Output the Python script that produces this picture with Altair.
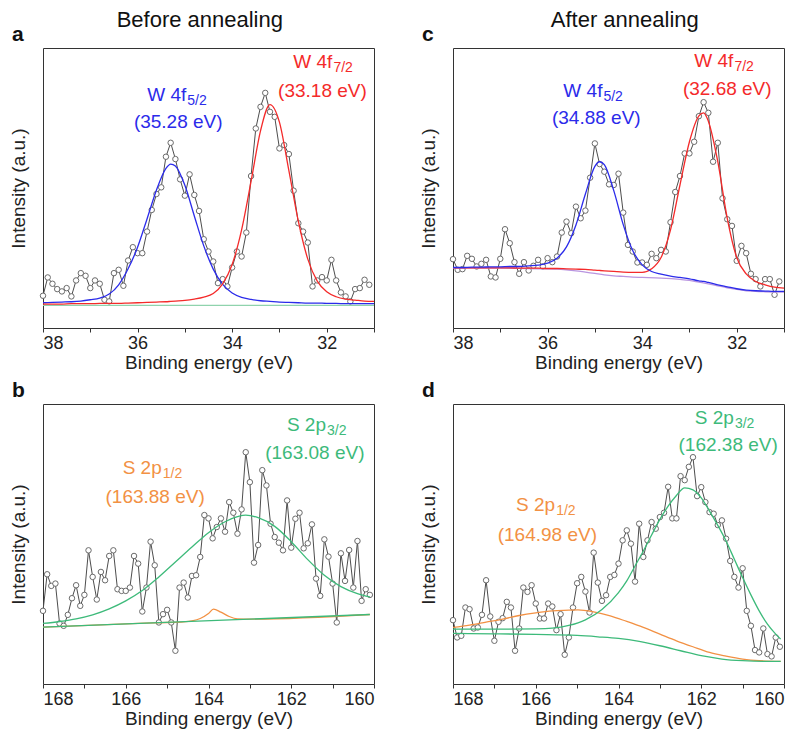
import altair as alt
import pandas as pd

FONT = "Liberation Sans"
BLUE = "#2b2bea"
RED = "#f42a2a"
GREEN = "#3dba7a"
GREEN_LIGHT = "#8fd3ad"
ORANGE = "#f29144"
PURPLE = "#b995e0"
DATA_LINE = "#4d4d4d"
DATA_EDGE = "#6b6b6b"

W = 331
H = 280
Y_MAX = 842

# ---------------- measured spectra (binding energy, intensity a.u.) ----------------
W_E = [38.0, 37.9, 37.8, 37.7, 37.6, 37.5, 37.4, 37.3, 37.2, 37.1,
       37.0, 36.9, 36.8, 36.7, 36.6, 36.5, 36.4, 36.3, 36.2, 36.1,
       36.0, 35.9, 35.8, 35.7, 35.6, 35.5, 35.4, 35.3, 35.2, 35.1,
       35.0, 34.9, 34.8, 34.7, 34.6, 34.5, 34.4, 34.3, 34.2, 34.1,
       34.0, 33.9, 33.8, 33.7, 33.6, 33.5, 33.4, 33.3, 33.2, 33.1,
       33.0, 32.9, 32.8, 32.7, 32.6, 32.5, 32.4, 32.3, 32.2, 32.1,
       32.0, 31.9, 31.8, 31.7, 31.6, 31.5, 31.4, 31.3, 31.2, 31.1]

S_E = [168.0, 167.9, 167.8, 167.7, 167.6, 167.5, 167.4, 167.3, 167.2, 167.1,
       167.0, 166.9, 166.8, 166.7, 166.6, 166.5, 166.4, 166.3, 166.2, 166.1,
       166.0, 165.9, 165.8, 165.7, 165.6, 165.5, 165.4, 165.3, 165.2, 165.1,
       165.0, 164.9, 164.8, 164.7, 164.6, 164.5, 164.4, 164.3, 164.2, 164.1,
       164.0, 163.9, 163.8, 163.7, 163.6, 163.5, 163.4, 163.3, 163.2, 163.1,
       163.0, 162.9, 162.8, 162.7, 162.6, 162.5, 162.4, 162.3, 162.2, 162.1,
       162.0, 161.9, 161.8, 161.7, 161.6, 161.5, 161.4, 161.3, 161.2, 161.1,
       161.0, 160.9, 160.8, 160.7, 160.6, 160.5, 160.4, 160.3, 160.2, 160.1]

A_I = [97, 152, 133, 117, 110, 120, 95, 143, 165, 157,
       120, 143, 133, 85, 80, 165, 175, 127, 203, 243,
       225, 225, 290, 355, 403, 423, 515, 557, 508, 447,
       398, 462, 400, 352, 267, 230, 200, 135, 147, 125,
       182, 230, 215, 287, 457, 600, 665, 707, 650, 635,
       540, 550, 523, 413, 315, 290, 257, 125, 143, 153,
       143, 205, 143, 107, 95, 80, 117, 120, 145, 130]

C_I = [207, 175, 177, 217, 208, 185, 193, 205, 155, 152,
       208, 297, 255, 198, 163, 198, 173, 187, 205, 185,
       210, 198, 215, 287, 320, 285, 365, 330, 353, 452,
       555, 493, 470, 432, 430, 464, 347, 250, 230, 197,
       197, 190, 223, 210, 235, 230, 318, 409, 457, 525,
       525, 560, 637, 679, 647, 500, 557, 390, 327, 307,
       202, 247, 225, 163, 147, 125, 147, 147, 100, 140]

B_I = [220, 330, 295, 302, 182, 175, 208, 258, 297, 235,
       268, 402, 322, 254, 337, 312, 385, 402, 285, 280,
       280, 290, 385, 362, 218, 290, 428, 357, 185, 210,
       223, 185, 100, 290, 305, 260, 325, 327, 382, 508,
       498, 438, 472, 498, 458, 547, 515, 452, 525, 697,
       607, 365, 418, 643, 597, 482, 442, 425, 402, 552,
       410, 497, 515, 408, 423, 480, 317, 265, 435, 383,
       302, 185, 393, 310, 403, 290, 430, 250, 285, 268]

D_I = [192, 140, 145, 230, 225, 167, 170, 208, 312, 203,
       130, 187, 198, 247, 230, 100, 167, 290, 277, 297,
       242, 197, 197, 242, 233, 162, 210, 88, 140, 230,
       303, 322, 278, 215, 395, 305, 250, 267, 322, 328,
       362, 432, 462, 422, 308, 482, 382, 432, 487, 467,
       502, 515, 593, 498, 498, 625, 613, 653, 682, 565,
       592, 547, 517, 512, 478, 492, 437, 370, 322, 290,
       348, 220, 175, 102, 95, 167, 90, 83, 140, 112]

# ---------------- fitted components ----------------
A_FIT_E = [38.0, 37.8, 37.6, 37.4, 37.2, 37.0, 36.8, 36.6, 36.4, 36.2, 36.0, 35.8,
           35.6, 35.4, 35.3, 35.2, 35.0, 34.8, 34.6, 34.4, 34.2, 34.0, 33.8, 33.6,
           33.4, 33.2, 33.0, 32.8, 32.6, 32.4, 32.2, 32.0, 31.8, 31.6, 31.4, 31.2, 31.0]
A_W52 = [76, 77, 78, 79, 81, 85, 90, 102, 130, 178, 243, 328,
         415, 480, 493, 487, 429, 337, 247, 177, 131, 105, 92, 86,
         82, 80, 78, 77, 76, 75, 75, 74, 74, 73, 73, 73, 73]
A_W72 = [72, 72, 72, 73, 73, 73, 74, 74, 74, 75, 76, 77,
         78, 79, 80, 81, 83, 87, 93, 104, 133, 191, 295, 441,
         593, 672, 619, 473, 321, 207, 141, 109, 94, 87, 84, 81, 80]
A_BG_E = [38.0, 31.0]
A_BG = [68, 68]

C_FIT_E = [38.0, 37.8, 37.6, 37.4, 37.2, 37.0, 36.8, 36.6, 36.4, 36.2, 36.0, 35.8,
           35.6, 35.4, 35.2, 35.0, 34.9, 34.8, 34.6, 34.4, 34.2, 34.0, 33.8, 33.6,
           33.4, 33.2, 33.0, 32.8, 32.7, 32.6, 32.4, 32.2, 32.0, 31.8, 31.6, 31.4,
           31.2, 31.0]
C_W52 = [182, 182, 183, 183, 184, 184, 185, 185, 187, 189, 195, 210,
         244, 310, 403, 486, 500, 491, 413, 311, 233, 190, 170, 162,
         156, 152, 148, 142, 140, 137, 130, 124, 118, 114, 112, 111,
         110, 110]
C_W72 = [181, 181, 181, 181, 181, 181, 181, 180, 180, 180, 179, 179,
         178, 177, 176, 174, 173, 172, 170, 168, 167, 167, 178, 212,
         295, 430, 560, 638, 647, 622, 500, 330, 212, 163, 140, 130,
         123, 120]
C_BG_E = [38.0, 37.0, 36.6, 36.2, 35.8, 35.6, 35.4, 35.2, 35.0, 34.8, 34.6, 34.4,
          34.2, 34.0, 33.6, 33.2, 33.0, 32.8, 32.6, 32.4, 32.2, 32.0, 31.8, 31.6,
          31.4, 31.0]
C_BG = [180, 180, 179, 178, 177, 175, 172, 168, 164, 160, 157, 155,
        153, 152, 150, 146, 143, 138, 133, 127, 121, 116, 112, 110,
        109, 108]

B_P32_E = [168.0, 167.6, 167.2, 166.8, 166.4, 166.0, 165.6, 165.2, 164.8, 164.4, 164.0,
           163.6, 163.3, 163.1, 162.8, 162.4, 162.0, 161.6, 161.2, 160.8, 160.4, 160.1]
B_P32 = [182, 188, 196, 208, 226, 250, 281, 322, 367, 412, 455,
         488, 503, 508, 500, 474, 428, 374, 327, 293, 272, 262]
B_P12_E = [168.0, 166.0, 165.0, 164.6, 164.4, 164.2, 164.0, 163.88, 163.7, 163.5,
           163.3, 163.0, 160.1]
B_P12 = [171, 181, 185, 187, 190, 197, 212, 225, 216, 203,
         196, 195, 209]
B_BG_E = [168.0, 160.1]
B_BG = [171, 209]

D_P32_E = [168.0, 167.0, 166.0, 165.6, 165.2, 164.8, 164.4, 164.0, 163.8, 163.6,
           163.4, 163.2, 163.0, 162.8, 162.6, 162.4, 162.2, 162.0, 161.8, 161.6,
           161.4, 161.2, 161.0, 160.8, 160.6, 160.4, 160.2, 160.08]
D_P32 = [165, 165, 166, 168, 176, 193, 224, 275, 310, 355,
         400, 448, 495, 535, 567, 590, 584, 560, 520, 477,
         430, 375, 320, 268, 220, 180, 150, 135]
D_P12_E = [168.0, 167.6, 167.2, 166.8, 166.4, 166.0, 165.6, 165.2, 164.98, 164.6,
           164.2, 163.8, 163.4, 163.0, 162.6, 162.2, 161.8, 161.4, 161.0, 160.6, 160.08]
D_P12 = [170, 177, 186, 195, 206, 214, 220, 222, 223, 217,
         205, 188, 170, 150, 130, 112, 95, 84, 75, 70, 68]
D_BG_E = [168.0, 167.0, 166.0, 165.0, 164.5, 164.0, 163.5, 163.0, 162.5, 162.0,
          161.5, 161.0, 160.5, 160.08]
D_BG = [152, 151, 149, 146, 142, 137, 128, 115, 100, 85,
        75, 70, 68, 68]

# ---------------- peak labels (anchored in data coordinates) ----------------
A_LABELS = [("W 4f", "5/2", 34.97, 682, "(35.28 eV)", 35.14, 601, BLUE),
            ("W 4f", "7/2", 31.88, 781, "(33.18 eV)", 32.09, 694, RED)]
C_LABELS = [("W 4f", "5/2", 34.84, 695, "(34.88 eV)", 34.97, 613, BLUE),
            ("W 4f", "7/2", 32.07, 785, "(32.68 eV)", 32.20, 700, RED)]
B_LABELS = [("S 2p", "3/2", 161.16, 760, "(163.08 eV)", 161.43, 678, GREEN),
            ("S 2p", "1/2", 165.13, 630, "(163.88 eV)", 165.29, 543, ORANGE)]
D_LABELS = [("S 2p", "3/2", 161.21, 783, "(162.38 eV)", 161.35, 700, GREEN),
            ("S 2p", "1/2", 165.53, 520, "(164.98 eV)", 165.72, 430, ORANGE)]


def panel(E, I, fits, labels, x_lo, x_hi, letter):
    ticks = list(range(x_lo, x_hi + 1))
    x = alt.X("E:Q",
              scale=alt.Scale(domain=[x_lo, x_hi], reverse=True, nice=False, zero=False),
              axis=alt.Axis(values=ticks, title="Binding energy (eV)",
                            labelExpr="datum.value % 2 === 0 ? datum.label : ''"))
    y = alt.Y("I:Q",
              scale=alt.Scale(domain=[0, Y_MAX], nice=False, zero=False),
              axis=alt.Axis(title="Intensity (a.u.)", labels=False, ticks=False,
                            domain=False, grid=False, titlePadding=15))
    pts = pd.DataFrame({"E": E, "I": I})
    layers = [
        alt.Chart(pts).mark_line(color=DATA_LINE, strokeWidth=1).encode(x=x, y=y),
        alt.Chart(pts).mark_circle(size=30, fill="white", stroke=DATA_EDGE,
                                   strokeWidth=1, opacity=1).encode(x=x, y=y),
    ]
    for fe, fi, color in fits:
        df = pd.DataFrame({"E": fe, "I": fi})
        layers.append(alt.Chart(df).mark_line(color=color, strokeWidth=1.3,
                                              interpolate="monotone").encode(x=x, y=y))
    for name, sub, e1, i1, pos, e2, i2, color in labels:
        d1 = pd.DataFrame({"E": [e1], "I": [i1], "t": [name]})
        d2 = pd.DataFrame({"E": [e1], "I": [i1], "t": [sub]})
        d3 = pd.DataFrame({"E": [e2], "I": [i2], "t": [pos]})
        layers.append(alt.Chart(d1).mark_text(align="right", baseline="alphabetic",
                                              fontSize=19, font=FONT, color=color)
                      .encode(x=x, y=y, text="t:N"))
        layers.append(alt.Chart(d2).mark_text(align="left", baseline="alphabetic",
                                              fontSize=14, font=FONT, color=color, dx=1, dy=4)
                      .encode(x=x, y=y, text="t:N"))
        layers.append(alt.Chart(d3).mark_text(align="center", baseline="alphabetic",
                                              fontSize=19, font=FONT, color=color)
                      .encode(x=x, y=y, text="t:N"))
    return alt.layer(*layers).properties(
        width=W, height=H,
        title=alt.TitleParams(letter, anchor="start", frame="bounds", fontSize=21,
                              fontWeight="bold", offset=3, dx=3, color="#111"))


pa = panel(W_E, A_I, [(A_BG_E, A_BG, GREEN_LIGHT), (A_FIT_E, A_W52, BLUE), (A_FIT_E, A_W72, RED)],
           A_LABELS, 31, 38, "a")
pc = panel(W_E, C_I, [(C_BG_E, C_BG, PURPLE), (C_FIT_E, C_W72, RED), (C_FIT_E, C_W52, BLUE)],
           C_LABELS, 31, 38, "c")
pb = panel(S_E, B_I, [(B_P12_E, B_P12, ORANGE), (B_BG_E, B_BG, GREEN), (B_P32_E, B_P32, GREEN)],
           B_LABELS, 160, 168, "b")
pd_ = panel(S_E, D_I, [(D_P12_E, D_P12, ORANGE), (D_BG_E, D_BG, GREEN), (D_P32_E, D_P32, GREEN)],
            D_LABELS, 160, 168, "d")

col1 = alt.vconcat(pa, pb, spacing=6,
                   title=alt.TitleParams("Before annealing", anchor="middle", fontSize=22,
                                         fontWeight="normal", offset=-8, dx=7, color="#111"))
col2 = alt.vconcat(pc, pd_, spacing=6,
                   title=alt.TitleParams("After annealing", anchor="middle", fontSize=22,
                                         fontWeight="normal", offset=-8, dx=22, color="#111"))

chart = (alt.hconcat(col1, col2, spacing=40)
         .properties(padding=0)
         .configure_view(stroke="#333", strokeWidth=1)
         .configure_title(font=FONT)
         .configure_axis(labelFont=FONT, titleFont=FONT, labelFontSize=18, titleFontSize=19,
                         titleFontWeight="normal", labelColor="#222", titleColor="#222",
                         tickColor="#333", tickSize=4, grid=False, domain=False,
                         labelPadding=2, titlePadding=1))

chart.save("out.html", embed_options={"renderer": "svg", "actions": False})
